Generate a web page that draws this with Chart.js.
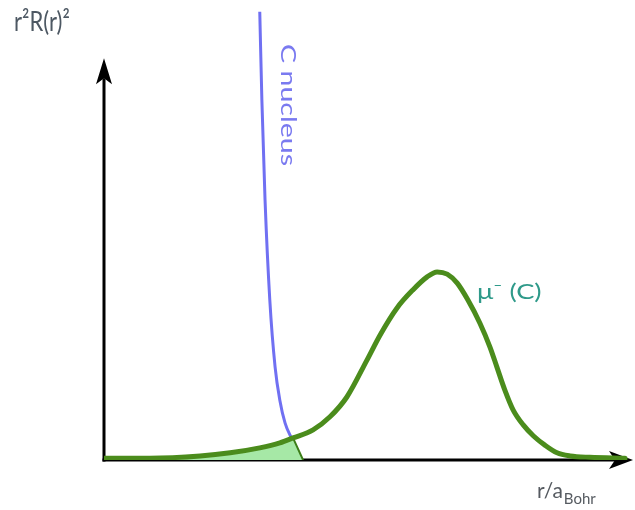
<!DOCTYPE html>
<html>
<head>
<meta charset="utf-8">
<script src="https://cdn.jsdelivr.net/npm/chart.js@4"></script>
<style>
html,body{margin:0;padding:0;background:#fff;}
#wrap{width:635px;height:510px;}
</style>
</head>
<body>
<div id="wrap"><canvas id="c" width="635" height="510"></canvas></div>
<script>
// r / a_Bohr (arbitrary units) and r^2 R(r)^2 (arbitrary units)
const nucleusX = [2.95, 2.99, 3.05, 3.14, 3.24, 3.33, 3.43, 3.56];
const nucleusY = [99.6, 80.0, 57.8, 35.6, 20.7, 13.3, 8.2, 4.6];

const muonX = [0.0, 0.87, 1.82, 2.39, 2.95, 3.33, 3.58, 3.96, 4.28, 4.60, 4.98, 5.23, 5.55, 5.85, 6.12, 6.31, 6.50, 6.69, 6.89, 7.12, 7.31, 7.44, 7.59, 7.75, 7.94, 8.13, 8.35, 8.58, 8.83, 9.20, 9.87];
const muonY = [0.4, 0.4, 0.9, 1.6, 2.7, 3.8, 4.9, 6.7, 9.6, 14.0, 22.2, 27.8, 33.8, 37.8, 40.7, 41.8, 41.3, 39.3, 35.6, 30.4, 25.1, 20.7, 15.6, 11.1, 7.8, 5.4, 3.3, 1.6, 0.9, 0.6, 0.4];

const overlapX = [1.2, 1.82, 2.39, 2.95, 3.33, 3.58, 3.77];
const overlapY = [0.5, 0.9, 1.6, 2.7, 3.8, 4.9, 0.0];

const xRange = [0, 10];
const yRange = [0, 100];
const yArrowTip = 89.3;

const toPts = (xs, ys) => xs.map((x, i) => ({x: x, y: ys[i]}));

const FONT = 'Lato, "Open Sans", sans-serif';

const axesPlugin = {
  id: 'arrowAxes',
  beforeDatasetsDraw(chart) {
    const ctx = chart.ctx, xs = chart.scales.x, ys = chart.scales.y;
    const x0 = xs.getPixelForValue(0), y0 = ys.getPixelForValue(0);
    const xEnd = xs.getPixelForValue(xRange[1]) + 1;
    const yTop = ys.getPixelForValue(yArrowTip);
    ctx.save();
    ctx.strokeStyle = '#000'; ctx.fillStyle = '#000'; ctx.lineWidth = 3;
    ctx.beginPath(); ctx.moveTo(x0, y0 + 1.5); ctx.lineTo(x0, yTop + 20); ctx.stroke();
    ctx.beginPath(); ctx.moveTo(x0, yTop); ctx.lineTo(x0 - 8, yTop + 26); ctx.lineTo(x0, yTop + 20); ctx.lineTo(x0 + 8, yTop + 26); ctx.closePath(); ctx.fill();
    ctx.beginPath(); ctx.moveTo(x0 - 1.5, y0); ctx.lineTo(xEnd - 18, y0); ctx.stroke();
    ctx.beginPath(); ctx.moveTo(xEnd, y0); ctx.lineTo(xEnd - 24, y0 - 9); ctx.lineTo(xEnd - 18, y0); ctx.lineTo(xEnd - 24, y0 + 9); ctx.closePath(); ctx.fill();
    ctx.restore();
  },
  afterDraw(chart) {
    const ctx = chart.ctx;
    ctx.save();
    ctx.textBaseline = 'alphabetic';
    ctx.save();
    ctx.translate(14, 31); ctx.scale(1.05, 1.3);
    ctx.fillStyle = '#4d5863';
    ctx.font = '21px ' + FONT;
    ctx.fillText('r²R(r)²', 0, 0);
    ctx.restore();
    ctx.fillStyle = '#555a60';
    ctx.font = '21px ' + FONT;
    ctx.fillText('r/a', 537, 498);
    const w = ctx.measureText('r/a').width;
    ctx.font = '15px ' + FONT;
    ctx.fillText('Bohr', 537 + w + 1, 504);
    ctx.save();
    ctx.translate(281, 44); ctx.rotate(Math.PI / 2); ctx.scale(1.3, 1);
    ctx.fillStyle = '#7a7af0';
    ctx.font = '22px ' + FONT;
    ctx.fillText('C nucleus', 0, 0);
    ctx.restore();
    ctx.save();
    ctx.translate(477, 299); ctx.scale(1.3, 1);
    ctx.fillStyle = '#2f9a8a';
    ctx.font = '21px ' + FONT;
    ctx.fillText('μ⁻ (C)', 0, 0);
    ctx.restore();
    ctx.restore();
  }
};

new Chart(document.getElementById('c'), {
  type: 'line',
  data: {
    datasets: [
      {
        label: 'overlap',
        data: toPts(overlapX, overlapY),
        borderColor: '#3c7d18', borderWidth: 2,
        backgroundColor: '#a6e8a6', fill: 'origin',
        pointRadius: 0, tension: 0, order: 3
      },
      {
        label: 'C nucleus',
        data: toPts(nucleusX, nucleusY),
        borderColor: '#7070f2', borderWidth: 3,
        pointRadius: 0, cubicInterpolationMode: 'monotone', fill: false, order: 2
      },
      {
        label: 'μ⁻ (C)',
        data: toPts(muonX, muonY),
        borderColor: '#4b8c1c', borderWidth: 5,
        pointRadius: 0, cubicInterpolationMode: 'monotone', fill: false, order: 1,
        borderCapStyle: 'round', borderJoinStyle: 'round'
      }
    ]
  },
  options: {
    responsive: false,
    animation: false,
    layout: {padding: {left: 104, right: 3, top: 10, bottom: 50}},
    plugins: {legend: {display: false}, tooltip: {enabled: false}},
    scales: {
      x: {type: 'linear', min: xRange[0], max: xRange[1], display: false},
      y: {type: 'linear', min: yRange[0], max: yRange[1], display: false}
    }
  },
  plugins: [axesPlugin]
});
</script>
</body>
</html>
